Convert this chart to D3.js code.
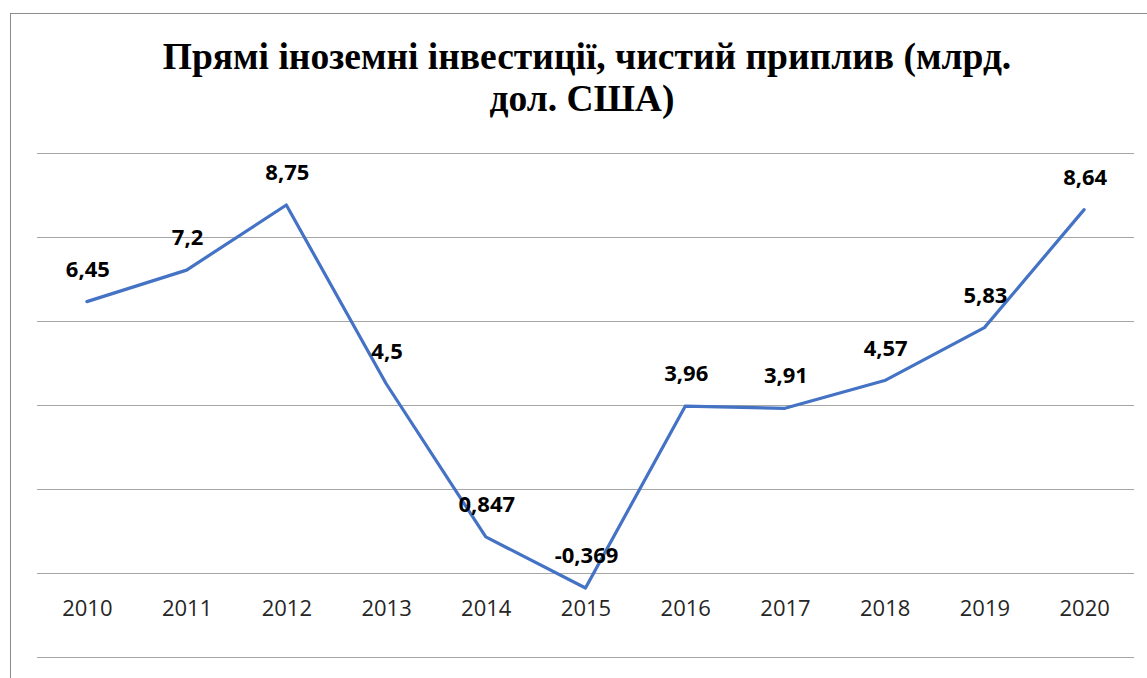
<!DOCTYPE html>
<html><head><meta charset="utf-8">
<script src="https://cdn.jsdelivr.net/npm/d3@7"></script>
<style>body{margin:0;background:#fff}svg{display:block}
.ttl{font-family:"Liberation Serif","Times New Roman",Times,serif;font-weight:bold}
.lbl{font-family:"Open Sans",sans-serif}
</style>
</head><body>
<svg id="c" width="1147" height="678"></svg>
<script>
const years = ["2010","2011","2012","2013","2014","2015","2016","2017","2018","2019","2020"];
const values = [6.45, 7.2, 8.75, 4.5, 0.847, -0.369, 3.96, 3.91, 4.57, 5.83, 8.64];
const labels = ["6,45","7,2","8,75","4,5","0,847","-0,369","3,96","3,91","4,57","5,83","8,64"];
const gridTicks = [-2, 0, 2, 4, 6, 8, 10];
const titleLines = ["Прямі іноземні інвестиції, чистий приплив (млрд.", "дол. США)"];

const svg = d3.select("#c");
svg.append("rect").attr("x",10.5).attr("y",13.5).attr("width",1150).attr("height",700)
  .attr("fill","none").attr("stroke","#8c8c8c").attr("stroke-width",1);

const L = 37, R = 1134;
const x = d3.scalePoint().domain(years).range([L, R]).padding(0.5);
const y = d3.scaleLinear().domain([-2, 10]).range([656.5, 152.5]);

svg.append("g").selectAll("line").data(gridTicks).join("line")
  .attr("x1", L).attr("x2", R)
  .attr("y1", d => Math.round(y(d)) + 0.5).attr("y2", d => Math.round(y(d)) + 0.5)
  .attr("stroke", "#a6a6a6").attr("stroke-width", 1);

svg.append("g").selectAll("text").data(titleLines).join("text")
  .attr("class","ttl")
  .attr("x", (d,i) => i === 0 ? 587 : 582).attr("y", (d,i) => 69 + i*42)
  .attr("text-anchor","middle")
  .attr("font-size", 37.5).attr("fill","#000")
  .text(d => d);

const xAxis = d3.axisBottom(x).tickSize(0).tickPadding(0);
const gx = svg.append("g").attr("transform", `translate(0,${y(0)})`).call(xAxis);
gx.select(".domain").remove();
gx.selectAll("text").attr("dy", null).attr("y", 43).attr("class","lbl")
  .attr("font-size", 22).attr("fill","#262626").attr("font-family", null);

const line = d3.line().x((d,i) => x(years[i])).y(d => y(d));
svg.append("path").datum(values).attr("d", line)
  .attr("fill","none").attr("stroke","#4472C4").attr("stroke-width",3.2)
  .attr("stroke-linejoin","round").attr("stroke-linecap","round");

svg.append("g").selectAll("text").data(values).join("text")
  .attr("class","lbl")
  .attr("x", (d,i) => x(years[i]) + 1)
  .attr("y", d => y(d) - 25)
  .attr("text-anchor","middle")
  .attr("font-weight","bold").attr("font-size", 22).attr("fill","#000")
  .text((d,i) => labels[i]);
</script>
</body></html>
